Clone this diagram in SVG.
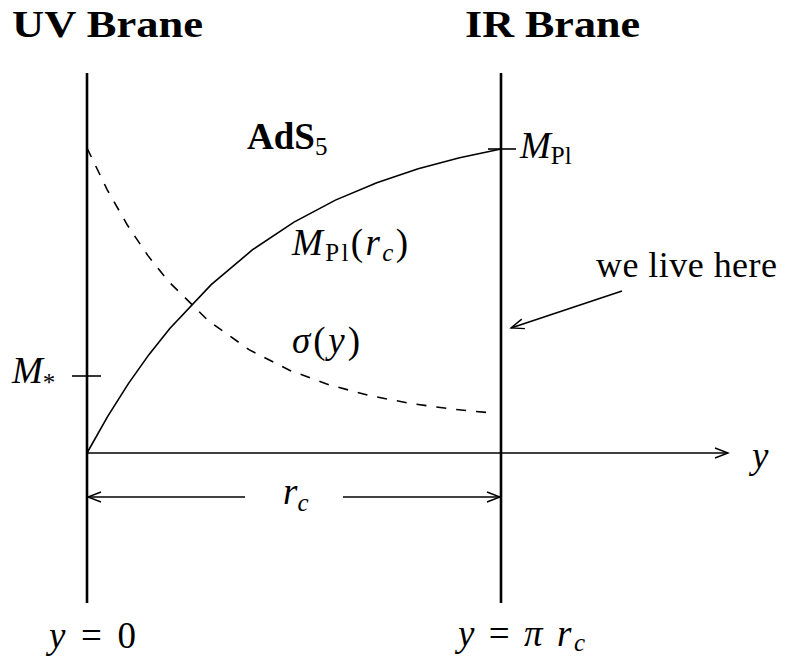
<svg xmlns="http://www.w3.org/2000/svg" width="788" height="657" viewBox="0 0 788 657">
<style>
.t{font-family:"Liberation Serif","Times New Roman",serif;fill:#000}
.b{font-weight:bold}
.i{font-style:italic}
.ln{stroke:#000;fill:none;stroke-width:1.6}
.brane{stroke:#000;stroke-width:2.6}
</style>
<defs>
<marker id="ah" markerWidth="16" markerHeight="12" refX="14" refY="6" orient="auto" markerUnits="userSpaceOnUse">
<path d="M1 1 L14 6 L1 11" fill="none" stroke="#000" stroke-width="1.4"/>
</marker>
</defs>
<rect width="788" height="657" fill="#fff"/>
<g id="connectors">
<line class="ln" x1="87" y1="453" x2="728" y2="453" marker-end="url(#ah)"/>
<line class="ln" x1="245" y1="497" x2="88" y2="497" marker-end="url(#ah)"/>
<line class="ln" x1="343" y1="497" x2="500" y2="497" marker-end="url(#ah)"/>
<line class="ln" x1="622" y1="291" x2="511" y2="328" marker-end="url(#ah)"/>
<polyline class="ln" points="87,453 107.7,416.3 128.4,383.6 149.1,354.4 169.8,328.4 211.2,284.6 252.6,249.7 294,222.1 335.4,200.1 376.8,182.7 418.2,168.8 459.6,157.8 501,149"/>
<polyline class="ln" stroke-dasharray="10,10" points="87,148 107.25,189.8 127.5,225.3 147.75,255.4 168,280.9 208.5,320.9 249,349.6 289.5,370.3 330,385.1 370.5,395.8 411,403.5 451.5,409 492,413"/>
<line class="ln" x1="488" y1="149" x2="516" y2="149"/>
<line class="ln" x1="72" y1="376" x2="101" y2="376"/>
</g>
<g id="uv-brane">
<line class="brane" x1="87" y1="73" x2="87" y2="603"/>
<text class="t b" x="12" y="37" font-size="38" textLength="191" lengthAdjust="spacingAndGlyphs">UV Brane</text>
<text class="t" x="49" y="648" font-size="37" textLength="87" lengthAdjust="spacing"><tspan class="i">y</tspan> = 0</text>
</g>
<g id="ir-brane">
<line class="brane" x1="501" y1="73" x2="501" y2="603"/>
<text class="t b" x="465" y="37" font-size="38" textLength="175" lengthAdjust="spacingAndGlyphs">IR Brane</text>
<text class="t" x="458" y="646" font-size="37" textLength="127" lengthAdjust="spacing"><tspan class="i">y</tspan> = <tspan class="i">π r</tspan><tspan class="i" font-size="25" dy="5">c</tspan></text>
</g>
<g id="ads5">
<text class="t" x="247" y="149" font-size="37"><tspan class="b">AdS</tspan><tspan font-size="25" dy="6">5</tspan></text>
</g>
<g id="mpl">
<text class="t" x="520" y="158" font-size="37"><tspan class="i">M</tspan><tspan font-size="25" dy="6">Pl</tspan></text>
</g>
<g id="mpl-rc">
<text class="t" x="292" y="255" font-size="37" textLength="116" lengthAdjust="spacing"><tspan class="i">M</tspan><tspan font-size="25" dy="6">Pl</tspan><tspan dy="-6">(</tspan><tspan class="i">r</tspan><tspan class="i" font-size="25" dy="6">c</tspan><tspan dy="-6">)</tspan></text>
</g>
<g id="sigma">
<text class="t" x="292" y="353" font-size="37" textLength="68" lengthAdjust="spacing"><tspan class="i">σ</tspan>(<tspan class="i">y</tspan>)</text>
</g>
<g id="mstar">
<text class="t" x="12" y="383" font-size="37"><tspan class="i">M</tspan><tspan font-size="25" dy="8">*</tspan></text>
</g>
<g id="we-live-here">
<text class="t" x="596" y="277" font-size="36" textLength="181" lengthAdjust="spacing">we live here</text>
</g>
<g id="y-axis-label">
<text class="t i" x="752" y="468" font-size="37">y</text>
</g>
<g id="rc-label">
<text class="t" x="283" y="504" font-size="37"><tspan class="i">r</tspan><tspan class="i" font-size="25" dy="7">c</tspan></text>
</g>
</svg>
